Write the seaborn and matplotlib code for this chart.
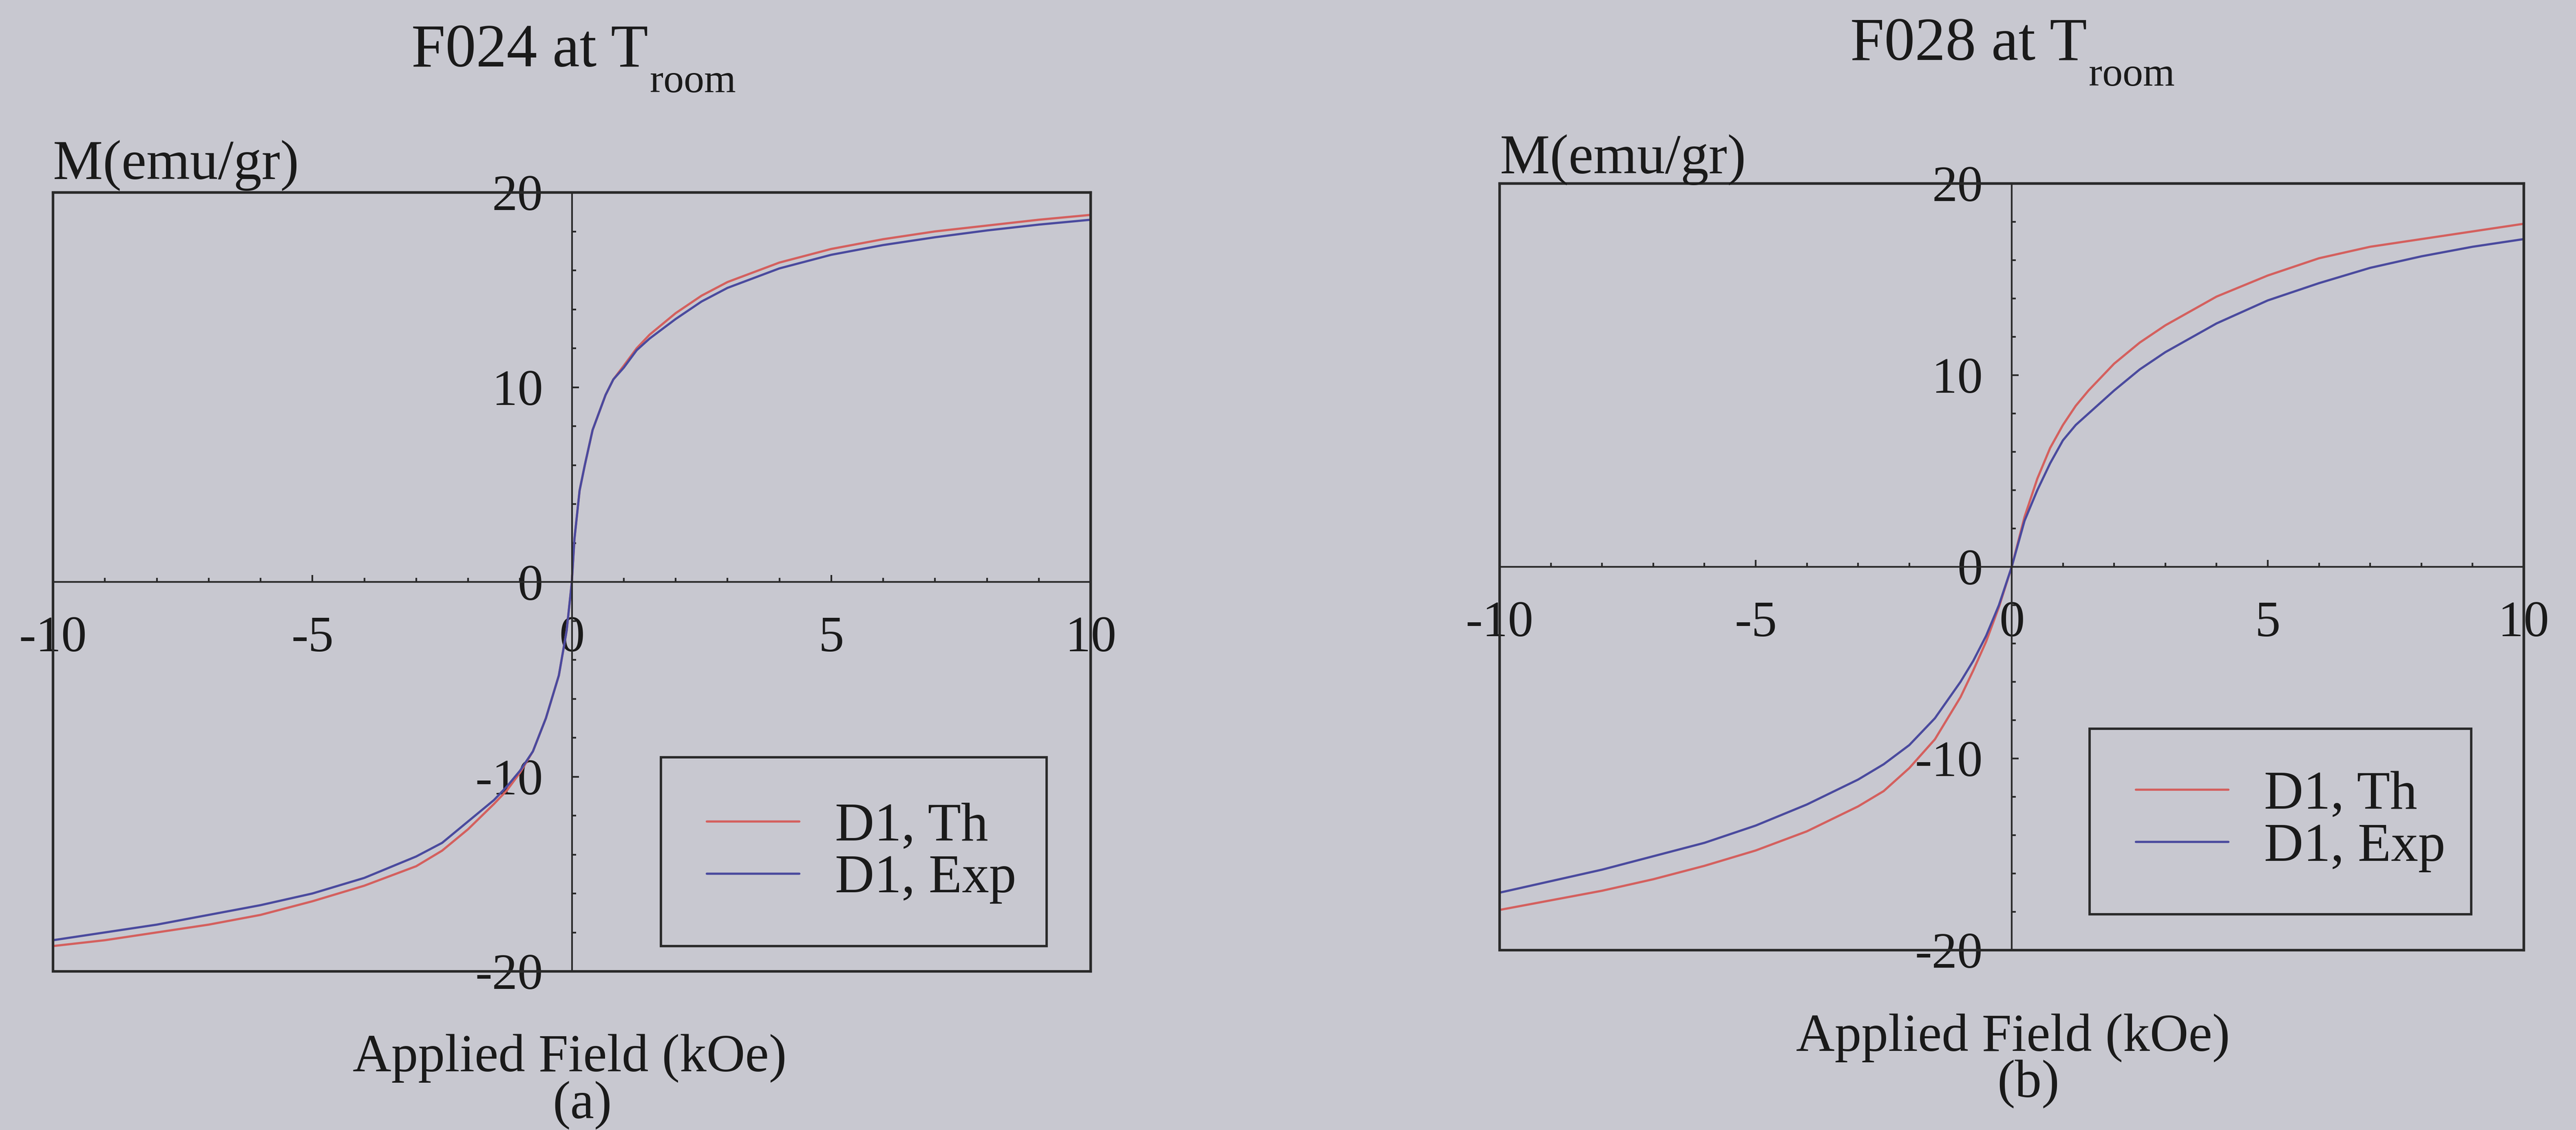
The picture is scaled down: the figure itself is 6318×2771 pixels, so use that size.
import numpy as np
import pandas as pd
import seaborn as sns
import matplotlib
matplotlib.use("Agg")
import matplotlib.pyplot as plt
from matplotlib.patches import Rectangle
from matplotlib.ticker import MultipleLocator

# ---------------- data ----------------
field_a = [-10, -9, -8, -7, -6, -5, -4, -3, -2.5, -2, -1.5, -1.25, -1, -0.75, -0.5, -0.25, -0.1,
           0, 0.05, 0.15, 0.25, 0.4, 0.65, 0.8, 1, 1.25, 1.5, 2, 2.5, 3, 4, 5, 6, 7, 8, 9, 10]
th_a = [-18.7, -18.4, -18.0, -17.6, -17.1, -16.4, -15.6, -14.6, -13.8, -12.7, -11.4, -10.7, -9.8, -8.7, -7.0, -4.8, -2.5,
        0, 2.2, 4.7, 6.0, 7.8, 9.6, 10.4, 11.1, 12.0, 12.7, 13.8, 14.7, 15.4, 16.4, 17.1, 17.6, 18.0, 18.3, 18.6, 18.85]
exp_a = [-18.4, -18.0, -17.6, -17.1, -16.6, -16.0, -15.2, -14.1, -13.4, -12.3, -11.2, -10.5, -9.7, -8.7, -7.0, -4.8, -2.5,
         0, 2.2, 4.7, 6.0, 7.8, 9.6, 10.4, 11.0, 11.9, 12.5, 13.5, 14.4, 15.1, 16.1, 16.8, 17.3, 17.7, 18.05, 18.35, 18.6]

field_b = [-10, -9, -8, -7, -6, -5, -4, -3, -2.5, -2, -1.5, -1, -0.75, -0.5, -0.25,
           0, 0.25, 0.5, 0.75, 1, 1.25, 1.5, 2, 2.5, 3, 4, 5, 6, 7, 8, 9, 10]
th_b = [-17.9, -17.4, -16.9, -16.3, -15.6, -14.8, -13.8, -12.5, -11.7, -10.5, -9.0, -6.8, -5.4, -3.9, -2.1,
        0, 2.6, 4.6, 6.2, 7.4, 8.4, 9.2, 10.6, 11.7, 12.6, 14.1, 15.2, 16.1, 16.7, 17.1, 17.5, 17.9]
exp_b = [-17.0, -16.4, -15.8, -15.1, -14.4, -13.5, -12.4, -11.1, -10.3, -9.3, -7.9, -6.0, -4.9, -3.6, -2.0,
         0, 2.4, 4.0, 5.4, 6.6, 7.4, 8.0, 9.2, 10.3, 11.2, 12.7, 13.9, 14.8, 15.6, 16.2, 16.7, 17.1]

series_names = ["D1, Th", "D1, Exp"]
panel_titles = ["F024 at T", "F028 at T"]
title_sub = "room"
ylabel_text = "M(emu/gr)"
xlabel_text = "Applied Field (kOe)"
panel_tags = ["(a)", "(b)"]

# ---------------- style ----------------
W, H, DPI = 6318, 2771, 300
BG = "#c8c8d0"
INK = "#2a2a2a"
palette = {"D1, Th": "#d4605e", "D1, Exp": "#4a4a9e"}

sns.set_theme(style="white")
plt.rcParams["font.family"] = ["Liberation Serif", "DejaVu Serif"]
plt.rcParams["axes.unicode_minus"] = False

fig = plt.figure(figsize=(W / DPI, H / DPI), dpi=DPI)
fig.patch.set_facecolor(BG)


def fx(x):
    return x / W


def fy(y):
    return 1 - y / H


# axes boxes in pixels: left, top, right, bottom
boxes = [(130, 472, 2675, 2382), (3678, 450, 6190, 2330)]
legend_boxes = [(0.586, 0.0325, 0.3716, 0.2425), (0.576, 0.047, 0.3727, 0.242)]
legend_anchor = [(0.630, 0.152), (0.621, 0.168)]
title_pos = [((1590, 163), (1594, 226)), ((5119, 147), (5123, 210))]
ylab_pos = [(130, 440), (3679, 426)]
xlab_pos = [(1397, 2627), (4937, 2577)]
tag_pos = [(1428, 2742), (4975, 2690)]

datasets = [(field_a, th_a, exp_a), (field_b, th_b, exp_b)]

for i, (fld, th, ex) in enumerate(datasets):
    l, t, r, b = boxes[i]
    ax = fig.add_axes([fx(l), fy(b), (r - l) / W, (b - t) / H])
    ax.set_facecolor(BG)
    df = pd.DataFrame({
        "H": list(fld) + list(fld),
        "M": list(th) + list(ex),
        "curve": [series_names[0]] * len(fld) + [series_names[1]] * len(fld),
    })
    sns.lineplot(data=df, x="H", y="M", hue="curve", palette=palette,
                 estimator=None, sort=False, linewidth=1.3, ax=ax, legend=False)
    ax.set_xlim(-10, 10)
    ax.set_ylim(-20, 20)
    ax.set_xlabel("")
    ax.set_ylabel("")

    # centered axes through the origin
    ax.spines["left"].set_position(("data", 0))
    ax.spines["bottom"].set_position(("data", 0))
    for s in ("left", "bottom"):
        ax.spines[s].set_linewidth(1.0)
        ax.spines[s].set_color(INK)
    for s in ("top", "right"):
        ax.spines[s].set_linewidth(1.5)
        ax.spines[s].set_color(INK)
    # left/bottom edges of the outer frame
    ax.add_patch(Rectangle((0, 0), 1, 1, transform=ax.transAxes, fill=False,
                           edgecolor=INK, linewidth=1.5, zorder=3, clip_on=False))

    ax.xaxis.set_major_locator(MultipleLocator(5))
    ax.xaxis.set_minor_locator(MultipleLocator(1))
    ax.yaxis.set_major_locator(MultipleLocator(10))
    ax.yaxis.set_minor_locator(MultipleLocator(2))
    ax.tick_params(axis="both", which="both", direction="in", color=INK,
                   width=1.0, labelsize=30, labelcolor="#1a1a1a",
                   bottom=True, left=True, top=False, right=False)
    ax.tick_params(axis="both", which="major", length=4)
    ax.tick_params(axis="both", which="minor", length=2.5)
    ax.tick_params(axis="x", which="major", pad=20)
    ax.tick_params(axis="y", which="major", pad=17)

    # legend with its own wide frame
    handles = [plt.Line2D([], [], color=palette[n], linewidth=1.3) for n in series_names]
    ax.legend(handles, series_names, loc="center left", bbox_to_anchor=legend_anchor[i],
              frameon=False, fontsize=32, handlelength=1.7, handletextpad=0.66,
              labelspacing=0.05, borderpad=0, borderaxespad=0, labelcolor="#1a1a1a")
    x0, y0, w0, h0 = legend_boxes[i]
    ax.add_patch(Rectangle((x0, y0), w0, h0, transform=ax.transAxes, fill=False,
                           edgecolor=INK, linewidth=1.4, zorder=4))

    # titles and labels
    (mx, my), (sx, sy) = title_pos[i]
    fig.text(fx(mx), fy(my), panel_titles[i], ha="right", va="baseline",
             fontsize=36, color="#1a1a1a")
    fig.text(fx(sx), fy(sy), title_sub, ha="left", va="baseline",
             fontsize=24, color="#1a1a1a")
    fig.text(fx(ylab_pos[i][0]), fy(ylab_pos[i][1]), ylabel_text, ha="left",
             va="baseline", fontsize=33, color="#1a1a1a")
    fig.text(fx(xlab_pos[i][0]), fy(xlab_pos[i][1]), xlabel_text, ha="center",
             va="baseline", fontsize=31.5, color="#1a1a1a")
    fig.text(fx(tag_pos[i][0]), fy(tag_pos[i][1]), panel_tags[i], ha="center",
             va="baseline", fontsize=31.5, color="#1a1a1a")

fig.savefig("out.png", dpi=DPI, facecolor=BG)
